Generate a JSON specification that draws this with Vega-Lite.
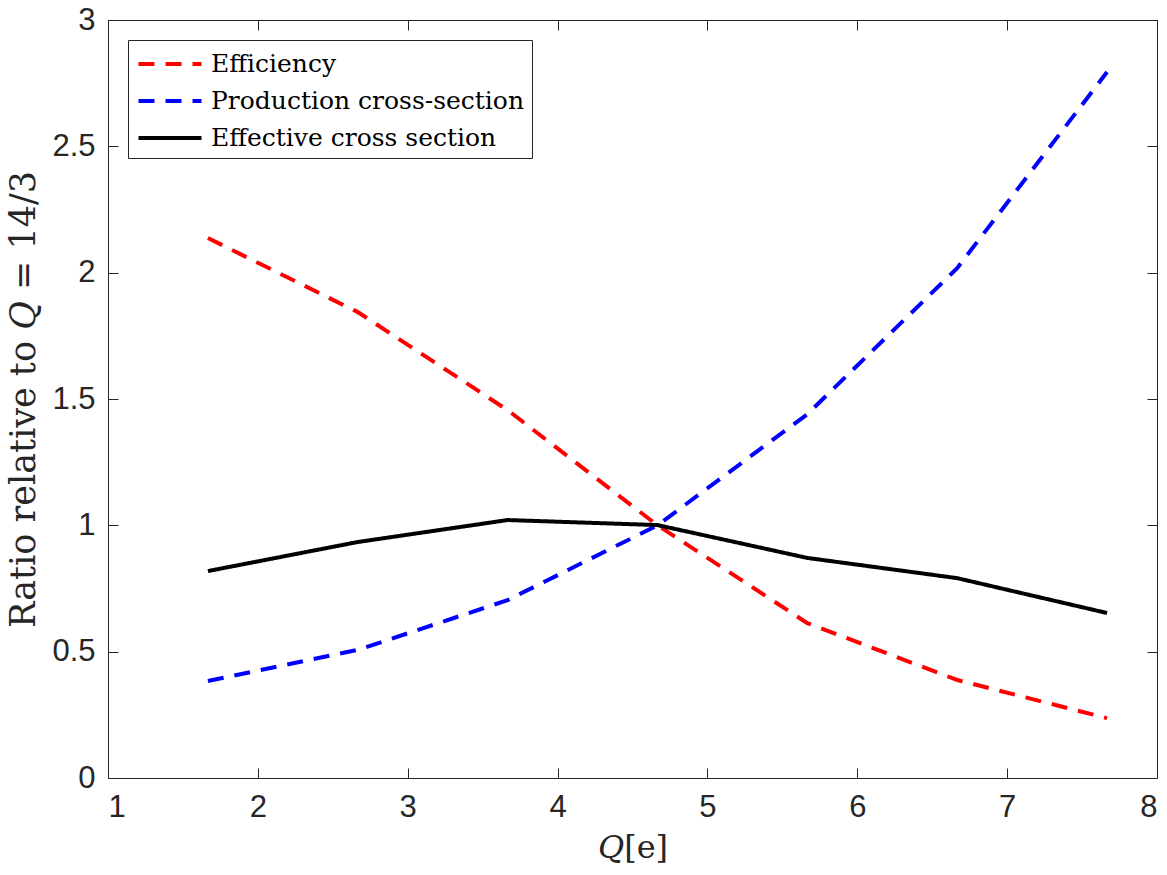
{
  "$schema": "https://vega.github.io/schema/vega-lite/v6.json",
  "autosize": {"type": "none"},
  "width": 1049,
  "height": 758,
  "padding": {"left": 108, "top": 20, "right": 10, "bottom": 97},
  "background": "white",
  "config": {
    "view": {"stroke": "#262626", "strokeWidth": 1},
    "axis": {
      "grid": false,
      "domain": false,
      "tickColor": "#262626",
      "tickWidth": 1,
      "tickSize": -10,
      "labelFont": "Liberation Sans",
      "labelFontSize": 31,
      "labelColor": "#262626",
      "format": "~g",
      "titleFont": "DejaVu Serif",
      "titleFontWeight": "normal",
      "titleFontSize": 32,
      "titleColor": "#262626"
    }
  },
  "data": {
    "values": [
      {"q": 1.6667, "ratio": 2.137, "series": "Efficiency"},
      {"q": 2.6667, "ratio": 1.844, "series": "Efficiency"},
      {"q": 3.6667, "ratio": 1.456, "series": "Efficiency"},
      {"q": 4.6667, "ratio": 1.0, "series": "Efficiency"},
      {"q": 5.6667, "ratio": 0.613, "series": "Efficiency"},
      {"q": 6.6667, "ratio": 0.388, "series": "Efficiency"},
      {"q": 7.6667, "ratio": 0.237, "series": "Efficiency"},
      {"q": 1.6667, "ratio": 0.384, "series": "Production cross-section"},
      {"q": 2.6667, "ratio": 0.507, "series": "Production cross-section"},
      {"q": 3.6667, "ratio": 0.704, "series": "Production cross-section"},
      {"q": 4.6667, "ratio": 1.0, "series": "Production cross-section"},
      {"q": 5.6667, "ratio": 1.44, "series": "Production cross-section"},
      {"q": 6.6667, "ratio": 2.018, "series": "Production cross-section"},
      {"q": 7.6667, "ratio": 2.794, "series": "Production cross-section"},
      {"q": 1.6667, "ratio": 0.819, "series": "Effective cross section"},
      {"q": 2.6667, "ratio": 0.934, "series": "Effective cross section"},
      {"q": 3.6667, "ratio": 1.021, "series": "Effective cross section"},
      {"q": 4.6667, "ratio": 1.001, "series": "Effective cross section"},
      {"q": 5.6667, "ratio": 0.871, "series": "Effective cross section"},
      {"q": 6.6667, "ratio": 0.791, "series": "Effective cross section"},
      {"q": 7.6667, "ratio": 0.653, "series": "Effective cross section"}
    ]
  },
  "layer": [
    {
      "mark": {"type": "line", "strokeWidth": 4, "clip": true},
      "encoding": {
        "x": {
          "field": "q", "type": "quantitative",
          "scale": {"domain": [1, 8], "nice": false, "zero": false},
          "axis": {"title": "𝑄[e]", "titleFont": "DejaVu Serif", "titleFontSize": 32, "values": [1, 2, 3, 4, 5, 6, 7, 8], "labelPadding": 24, "titlePadding": 10}
        },
        "y": {
          "field": "ratio", "type": "quantitative",
          "scale": {"domain": [0, 3], "nice": false},
          "axis": {"title": "Ratio relative to 𝑄 = 14/3", "titleFont": "DejaVu Serif", "titleFontSize": 35, "values": [0, 0.5, 1, 1.5, 2, 2.5, 3], "labelPadding": 23, "titlePadding": 10}
        },
        "color": {
          "field": "series", "type": "nominal",
          "sort": ["Efficiency", "Production cross-section", "Effective cross section"],
          "scale": {
            "domain": ["Efficiency", "Production cross-section", "Effective cross section"],
            "range": ["#ff0000", "#0000ff", "#000000"]
          },
          "legend": {
            "title": null,
            "orient": "top-left",
            "offset": 20,
            "symbolType": "M-2.1,0L2.1,0",
            "symbolSize": 900,
            "symbolStrokeWidth": 4,
            "symbolOffset": 18,
            "labelFont": "DejaVu Serif",
            "labelFontSize": 25,
            "labelColor": "#000000",
            "labelLimit": 500,
            "labelOffset": 24,
            "rowPadding": 7,
            "padding": 7,
            "strokeColor": "#262626",
            "fillColor": "white"
          }
        },
        "strokeDash": {
          "field": "series", "type": "nominal",
          "sort": ["Efficiency", "Production cross-section", "Effective cross section"],
          "scale": {
            "domain": ["Efficiency", "Production cross-section", "Effective cross section"],
            "range": [[16, 11], [16, 11], [1, 0]]
          },
          "legend": null
        }
      }
    },
    {
      "mark": {"type": "line", "opacity": 0},
      "encoding": {
        "x": {
          "field": "q", "type": "quantitative",
          "axis": {"orient": "top", "title": null, "labels": false, "values": [1, 2, 3, 4, 5, 6, 7, 8]}
        },
        "y": {
          "field": "ratio", "type": "quantitative",
          "axis": {"orient": "right", "title": null, "labels": false, "values": [0, 0.5, 1, 1.5, 2, 2.5, 3]}
        },
        "detail": {"field": "series"}
      }
    }
  ],
  "resolve": {"axis": {"x": "independent", "y": "independent"}}
}
